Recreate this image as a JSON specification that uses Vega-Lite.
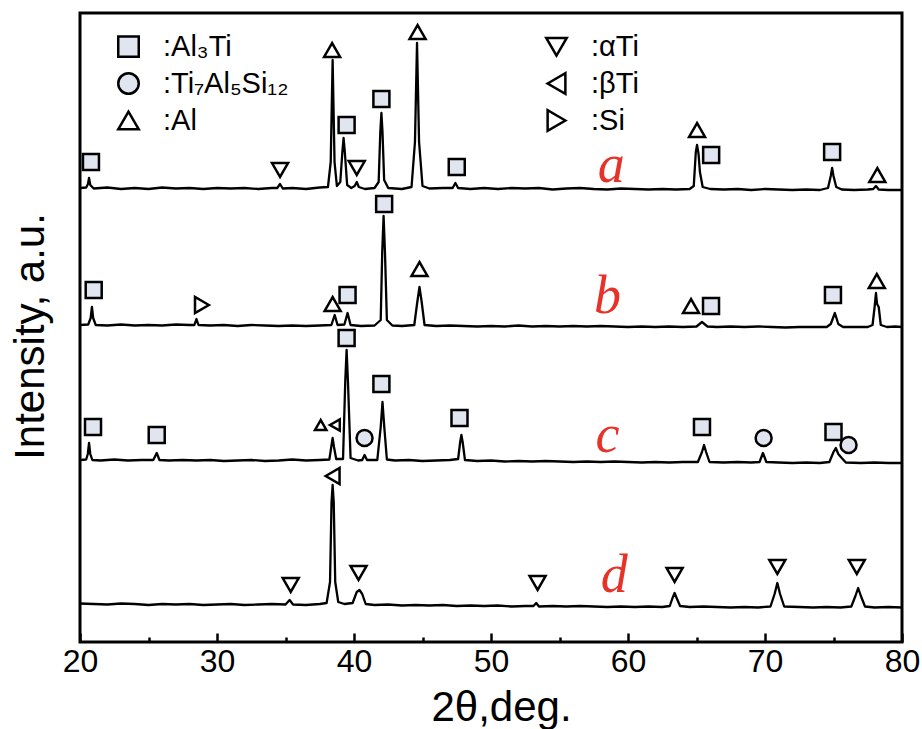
{
  "$schema": "https://vega.github.io/schema/vega-lite/v6.json",
  "width": 822,
  "height": 629,
  "autosize": {"type": "none"},
  "padding": {"left": 80, "top": 13, "right": 20, "bottom": 87},
  "background": "white",
  "config": {
    "view": {"stroke": "black", "strokeWidth": 3},
    "font": "Liberation Sans"
  },
  "datasets": {
    "curves": [
      {"s":"a","x":20.0,"y":454},{"s":"a","x":20.45,"y":454.5},{"s":"a","x":20.58,"y":458},{"s":"a","x":20.66,"y":464},{"s":"a","x":20.75,"y":457},{"s":"a","x":21.0,"y":453.5},{"s":"a","x":22,"y":454.5},{"s":"a","x":23,"y":453},{"s":"a","x":24,"y":454},{"s":"a","x":25,"y":453},{"s":"a","x":26,"y":454.5},{"s":"a","x":27,"y":453.5},{"s":"a","x":28,"y":454},{"s":"a","x":29,"y":453},{"s":"a","x":30,"y":454},{"s":"a","x":31,"y":453.5},{"s":"a","x":32,"y":454},{"s":"a","x":33,"y":453},{"s":"a","x":34,"y":454},{"s":"a","x":34.4,"y":454},{"s":"a","x":34.6,"y":458},{"s":"a","x":34.8,"y":453.5},{"s":"a","x":35.5,"y":454},{"s":"a","x":36.5,"y":453},{"s":"a","x":37.5,"y":454.5},{"s":"a","x":38.1,"y":455},{"s":"a","x":38.3,"y":480},{"s":"a","x":38.44,"y":582},{"s":"a","x":38.58,"y":480},{"s":"a","x":38.75,"y":456},{"s":"a","x":39.0,"y":460},{"s":"a","x":39.15,"y":490},{"s":"a","x":39.24,"y":504},{"s":"a","x":39.33,"y":490},{"s":"a","x":39.5,"y":457},{"s":"a","x":39.8,"y":454},{"s":"a","x":40.05,"y":456},{"s":"a","x":40.2,"y":460},{"s":"a","x":40.35,"y":455},{"s":"a","x":40.8,"y":453},{"s":"a","x":41.5,"y":454},{"s":"a","x":41.8,"y":460},{"s":"a","x":41.92,"y":510},{"s":"a","x":42.0,"y":529},{"s":"a","x":42.08,"y":510},{"s":"a","x":42.2,"y":462},{"s":"a","x":42.5,"y":454},{"s":"a","x":43.5,"y":453},{"s":"a","x":44.2,"y":455},{"s":"a","x":44.45,"y":500},{"s":"a","x":44.6,"y":599},{"s":"a","x":44.75,"y":500},{"s":"a","x":45.0,"y":456},{"s":"a","x":45.5,"y":453.5},{"s":"a","x":46.5,"y":454},{"s":"a","x":47.2,"y":454},{"s":"a","x":47.4,"y":459},{"s":"a","x":47.6,"y":454},{"s":"a","x":48.5,"y":453},{"s":"a","x":49.5,"y":454},{"s":"a","x":50.5,"y":453},{"s":"a","x":51.5,"y":454},{"s":"a","x":52.5,"y":453.5},{"s":"a","x":53.5,"y":454},{"s":"a","x":54.5,"y":452.5},{"s":"a","x":55.5,"y":453.5},{"s":"a","x":56.5,"y":454},{"s":"a","x":57.5,"y":453},{"s":"a","x":58.5,"y":452.5},{"s":"a","x":59.5,"y":453.5},{"s":"a","x":60.5,"y":453},{"s":"a","x":61.5,"y":452.5},{"s":"a","x":62.5,"y":453},{"s":"a","x":63.5,"y":452.5},{"s":"a","x":64.5,"y":453},{"s":"a","x":64.8,"y":456},{"s":"a","x":64.95,"y":490},{"s":"a","x":65.04,"y":497},{"s":"a","x":65.15,"y":488},{"s":"a","x":65.25,"y":470},{"s":"a","x":65.45,"y":455},{"s":"a","x":66,"y":453},{"s":"a","x":67,"y":452.5},{"s":"a","x":68,"y":453},{"s":"a","x":69,"y":452},{"s":"a","x":70,"y":453},{"s":"a","x":71,"y":452.5},{"s":"a","x":72,"y":452},{"s":"a","x":73,"y":452.5},{"s":"a","x":74,"y":452},{"s":"a","x":74.6,"y":454},{"s":"a","x":74.8,"y":466},{"s":"a","x":74.9,"y":474},{"s":"a","x":75.0,"y":466},{"s":"a","x":75.2,"y":455},{"s":"a","x":75.6,"y":452.5},{"s":"a","x":76.5,"y":452},{"s":"a","x":77.5,"y":452.5},{"s":"a","x":77.9,"y":453},{"s":"a","x":78.1,"y":456},{"s":"a","x":78.3,"y":452.5},{"s":"a","x":79,"y":452},{"s":"a","x":80,"y":452},

      {"s":"b","x":20.0,"y":317},{"s":"b","x":20.6,"y":317.5},{"s":"b","x":20.78,"y":324},{"s":"b","x":20.87,"y":335},{"s":"b","x":20.96,"y":324},{"s":"b","x":21.15,"y":317},{"s":"b","x":22,"y":316.5},{"s":"b","x":23,"y":317.5},{"s":"b","x":24,"y":316.5},{"s":"b","x":25,"y":317},{"s":"b","x":26,"y":316.5},{"s":"b","x":27,"y":317.5},{"s":"b","x":28,"y":317},{"s":"b","x":28.35,"y":317},{"s":"b","x":28.5,"y":323},{"s":"b","x":28.65,"y":317},{"s":"b","x":29.5,"y":316.5},{"s":"b","x":30.5,"y":317},{"s":"b","x":31.5,"y":316},{"s":"b","x":32.5,"y":317},{"s":"b","x":33.5,"y":316.5},{"s":"b","x":34.5,"y":316},{"s":"b","x":35.5,"y":316.5},{"s":"b","x":36.5,"y":316},{"s":"b","x":37.5,"y":316.5},{"s":"b","x":38.35,"y":317},{"s":"b","x":38.59,"y":327},{"s":"b","x":38.8,"y":317},{"s":"b","x":39.3,"y":317.5},{"s":"b","x":39.53,"y":329},{"s":"b","x":39.75,"y":317},{"s":"b","x":40.5,"y":316},{"s":"b","x":41.5,"y":316.5},{"s":"b","x":41.95,"y":322},{"s":"b","x":42.06,"y":390},{"s":"b","x":42.16,"y":426},{"s":"b","x":42.26,"y":390},{"s":"b","x":42.4,"y":322},{"s":"b","x":42.8,"y":316.5},{"s":"b","x":43.5,"y":316},{"s":"b","x":44.4,"y":317},{"s":"b","x":44.62,"y":340},{"s":"b","x":44.78,"y":355},{"s":"b","x":44.94,"y":340},{"s":"b","x":45.15,"y":317},{"s":"b","x":46,"y":316},{"s":"b","x":47,"y":316.5},{"s":"b","x":48,"y":316},{"s":"b","x":49,"y":315.5},{"s":"b","x":50,"y":316},{"s":"b","x":51,"y":315.5},{"s":"b","x":52,"y":316.5},{"s":"b","x":53,"y":315.5},{"s":"b","x":54,"y":316},{"s":"b","x":55,"y":315.5},{"s":"b","x":56,"y":316},{"s":"b","x":57,"y":315.5},{"s":"b","x":58,"y":316},{"s":"b","x":59,"y":315.5},{"s":"b","x":60,"y":315},{"s":"b","x":61,"y":315.5},{"s":"b","x":62,"y":315},{"s":"b","x":63,"y":315.5},{"s":"b","x":64,"y":315},{"s":"b","x":65.0,"y":315.5},{"s":"b","x":65.4,"y":320},{"s":"b","x":65.8,"y":315.5},{"s":"b","x":66.5,"y":315},{"s":"b","x":67.5,"y":315.5},{"s":"b","x":68.5,"y":315},{"s":"b","x":69.5,"y":315.5},{"s":"b","x":70.5,"y":315},{"s":"b","x":71.5,"y":314.5},{"s":"b","x":72.5,"y":315},{"s":"b","x":73.5,"y":315},{"s":"b","x":74.5,"y":315},{"s":"b","x":74.8,"y":318},{"s":"b","x":75.1,"y":329},{"s":"b","x":75.35,"y":318},{"s":"b","x":75.7,"y":315},{"s":"b","x":76.5,"y":315},{"s":"b","x":77.5,"y":315},{"s":"b","x":77.85,"y":317},{"s":"b","x":78.0,"y":335},{"s":"b","x":78.1,"y":349},{"s":"b","x":78.18,"y":338},{"s":"b","x":78.3,"y":335},{"s":"b","x":78.45,"y":317},{"s":"b","x":78.9,"y":315},{"s":"b","x":79.5,"y":315.5},{"s":"b","x":80,"y":315},

      {"s":"c","x":20.0,"y":182},{"s":"c","x":20.45,"y":182.5},{"s":"c","x":20.57,"y":188},{"s":"c","x":20.66,"y":199},{"s":"c","x":20.75,"y":188},{"s":"c","x":20.9,"y":182},{"s":"c","x":21.5,"y":181.5},{"s":"c","x":22.5,"y":182.5},{"s":"c","x":23.5,"y":181.5},{"s":"c","x":24.5,"y":182},{"s":"c","x":25.35,"y":182},{"s":"c","x":25.6,"y":189},{"s":"c","x":25.8,"y":182},{"s":"c","x":26.5,"y":181.5},{"s":"c","x":27.5,"y":182},{"s":"c","x":28.5,"y":181.5},{"s":"c","x":29.5,"y":182},{"s":"c","x":30.5,"y":181},{"s":"c","x":31.5,"y":181.5},{"s":"c","x":32.5,"y":182},{"s":"c","x":33.5,"y":181},{"s":"c","x":34.5,"y":181.5},{"s":"c","x":35.5,"y":182.5},{"s":"c","x":36.5,"y":181.5},{"s":"c","x":37.5,"y":182},{"s":"c","x":38.2,"y":182.5},{"s":"c","x":38.34,"y":195},{"s":"c","x":38.44,"y":204},{"s":"c","x":38.54,"y":195},{"s":"c","x":38.7,"y":183},{"s":"c","x":39.2,"y":183},{"s":"c","x":39.36,"y":260},{"s":"c","x":39.46,"y":292},{"s":"c","x":39.56,"y":260},{"s":"c","x":39.75,"y":184},{"s":"c","x":40.3,"y":181.5},{"s":"c","x":40.6,"y":182},{"s":"c","x":40.77,"y":187},{"s":"c","x":40.95,"y":182},{"s":"c","x":41.7,"y":182},{"s":"c","x":41.95,"y":215},{"s":"c","x":42.08,"y":240},{"s":"c","x":42.21,"y":215},{"s":"c","x":42.4,"y":182.5},{"s":"c","x":43,"y":181.5},{"s":"c","x":44,"y":182},{"s":"c","x":45,"y":181},{"s":"c","x":46,"y":181.5},{"s":"c","x":47,"y":182},{"s":"c","x":47.6,"y":183},{"s":"c","x":47.75,"y":200},{"s":"c","x":47.84,"y":207},{"s":"c","x":47.93,"y":200},{"s":"c","x":48.1,"y":182},{"s":"c","x":49,"y":181},{"s":"c","x":50,"y":181.5},{"s":"c","x":51,"y":180.5},{"s":"c","x":52,"y":181},{"s":"c","x":53,"y":180.5},{"s":"c","x":54,"y":181},{"s":"c","x":55,"y":180.5},{"s":"c","x":56,"y":180},{"s":"c","x":57,"y":180.5},{"s":"c","x":58,"y":180},{"s":"c","x":59,"y":180.5},{"s":"c","x":60,"y":180},{"s":"c","x":61,"y":179.5},{"s":"c","x":62,"y":180},{"s":"c","x":63,"y":179.5},{"s":"c","x":64,"y":180},{"s":"c","x":65.1,"y":180},{"s":"c","x":65.4,"y":190},{"s":"c","x":65.55,"y":197},{"s":"c","x":65.7,"y":190},{"s":"c","x":65.95,"y":180},{"s":"c","x":67,"y":179.5},{"s":"c","x":68,"y":180},{"s":"c","x":69,"y":179.5},{"s":"c","x":69.6,"y":180},{"s":"c","x":69.85,"y":189},{"s":"c","x":70.1,"y":180},{"s":"c","x":71,"y":179.5},{"s":"c","x":72,"y":179},{"s":"c","x":73,"y":179.5},{"s":"c","x":74,"y":179},{"s":"c","x":74.7,"y":180},{"s":"c","x":75.0,"y":190},{"s":"c","x":75.17,"y":194},{"s":"c","x":75.35,"y":188},{"s":"c","x":75.6,"y":184},{"s":"c","x":75.9,"y":179.5},{"s":"c","x":77,"y":179},{"s":"c","x":78,"y":179.5},{"s":"c","x":79,"y":179},{"s":"c","x":80,"y":179},

      {"s":"d","x":20.0,"y":38.5},{"s":"d","x":21,"y":38},{"s":"d","x":22,"y":37.5},{"s":"d","x":23,"y":38.5},{"s":"d","x":24,"y":38},{"s":"d","x":25,"y":37},{"s":"d","x":26,"y":38},{"s":"d","x":27,"y":37.5},{"s":"d","x":28,"y":38},{"s":"d","x":29,"y":37},{"s":"d","x":30,"y":37.5},{"s":"d","x":31,"y":38},{"s":"d","x":32,"y":37},{"s":"d","x":33,"y":37.5},{"s":"d","x":34,"y":38},{"s":"d","x":35.0,"y":37.5},{"s":"d","x":35.3,"y":42},{"s":"d","x":35.55,"y":37.5},{"s":"d","x":36.5,"y":37},{"s":"d","x":37.5,"y":38},{"s":"d","x":38.0,"y":39},{"s":"d","x":38.25,"y":60},{"s":"d","x":38.36,"y":140},{"s":"d","x":38.44,"y":157},{"s":"d","x":38.52,"y":140},{"s":"d","x":38.63,"y":60},{"s":"d","x":38.85,"y":40},{"s":"d","x":39.3,"y":38},{"s":"d","x":39.9,"y":39},{"s":"d","x":40.2,"y":50},{"s":"d","x":40.4,"y":52},{"s":"d","x":40.6,"y":48},{"s":"d","x":40.85,"y":38},{"s":"d","x":41.5,"y":37},{"s":"d","x":42.5,"y":37.5},{"s":"d","x":43.5,"y":36.5},{"s":"d","x":44.5,"y":37},{"s":"d","x":45.5,"y":36.5},{"s":"d","x":46.5,"y":37},{"s":"d","x":47.5,"y":36},{"s":"d","x":48.5,"y":36.5},{"s":"d","x":49.5,"y":36},{"s":"d","x":50.5,"y":36.5},{"s":"d","x":51.5,"y":35.5},{"s":"d","x":52.5,"y":36},{"s":"d","x":53.1,"y":36},{"s":"d","x":53.3,"y":39},{"s":"d","x":53.5,"y":35.5},{"s":"d","x":54.5,"y":36},{"s":"d","x":55.5,"y":35.5},{"s":"d","x":56.5,"y":36},{"s":"d","x":57.5,"y":35.5},{"s":"d","x":58.5,"y":35},{"s":"d","x":59.5,"y":35.5},{"s":"d","x":60.5,"y":35},{"s":"d","x":61.5,"y":35.5},{"s":"d","x":62.5,"y":35},{"s":"d","x":63.05,"y":36},{"s":"d","x":63.25,"y":44},{"s":"d","x":63.4,"y":49},{"s":"d","x":63.55,"y":44},{"s":"d","x":63.8,"y":36},{"s":"d","x":64.5,"y":35},{"s":"d","x":65.5,"y":35.5},{"s":"d","x":66.5,"y":35},{"s":"d","x":67.5,"y":34.5},{"s":"d","x":68.5,"y":35},{"s":"d","x":69.5,"y":34.5},{"s":"d","x":70.4,"y":35.5},{"s":"d","x":70.7,"y":48},{"s":"d","x":70.9,"y":59},{"s":"d","x":71.1,"y":48},{"s":"d","x":71.4,"y":35.5},{"s":"d","x":72.5,"y":35},{"s":"d","x":73.5,"y":34.5},{"s":"d","x":74.5,"y":35},{"s":"d","x":75.5,"y":34.5},{"s":"d","x":76.3,"y":35.5},{"s":"d","x":76.6,"y":46},{"s":"d","x":76.8,"y":54},{"s":"d","x":77.0,"y":46},{"s":"d","x":77.3,"y":35.5},{"s":"d","x":78,"y":34.5},{"s":"d","x":79,"y":35},{"s":"d","x":80,"y":34.5}
    ],
    "markers": [
      {"p":"Al₃Ti","x":20.8,"y":480,"k":"main"},{"p":"αTi","x":34.6,"y":472,"k":"main"},{"p":"Al","x":38.4,"y":592,"k":"main"},{"p":"Al₃Ti","x":39.46,"y":517,"k":"main"},{"p":"αTi","x":40.2,"y":474,"k":"main"},{"p":"Al₃Ti","x":42.0,"y":543,"k":"main"},{"p":"Al","x":44.64,"y":610,"k":"main"},{"p":"Al₃Ti","x":47.5,"y":475,"k":"main"},{"p":"Al","x":65.04,"y":512,"k":"main"},{"p":"Al₃Ti","x":66.07,"y":487,"k":"main"},{"p":"Al₃Ti","x":74.9,"y":490,"k":"main"},{"p":"Al","x":78.2,"y":467,"k":"main"},
      {"p":"Al₃Ti","x":21.0,"y":352,"k":"main"},{"p":"Si","x":28.9,"y":337,"k":"main"},{"p":"Al","x":38.44,"y":338,"k":"main"},{"p":"Al₃Ti","x":39.53,"y":347,"k":"main"},{"p":"Al₃Ti","x":42.2,"y":438,"k":"main"},{"p":"Al","x":44.78,"y":373,"k":"main"},{"p":"Al","x":64.6,"y":336,"k":"main"},{"p":"Al₃Ti","x":66.06,"y":336,"k":"main"},{"p":"Al₃Ti","x":74.96,"y":347,"k":"main"},{"p":"Al","x":78.16,"y":361,"k":"main"},
      {"p":"Al₃Ti","x":20.95,"y":215,"k":"main"},{"p":"Al₃Ti","x":25.6,"y":207,"k":"main"},{"p":"Al","x":37.57,"y":217,"k":"minor"},{"p":"βTi","x":38.6,"y":217,"k":"minor"},{"p":"Al₃Ti","x":39.46,"y":304,"k":"main"},{"p":"Ti₇Al₅Si₁₂","x":40.77,"y":204,"k":"main"},{"p":"Al₃Ti","x":42.0,"y":258,"k":"main"},{"p":"Al₃Ti","x":47.7,"y":224,"k":"main"},{"p":"Al₃Ti","x":65.4,"y":215,"k":"main"},{"p":"Ti₇Al₅Si₁₂","x":69.9,"y":204,"k":"main"},{"p":"Al₃Ti","x":75.0,"y":210,"k":"main"},{"p":"Ti₇Al₅Si₁₂","x":76.1,"y":197,"k":"main"},
      {"p":"αTi","x":35.38,"y":57,"k":"main"},{"p":"βTi","x":38.44,"y":166,"k":"main"},{"p":"αTi","x":40.33,"y":69,"k":"main"},{"p":"αTi","x":53.4,"y":59,"k":"main"},{"p":"αTi","x":63.4,"y":67,"k":"main"},{"p":"αTi","x":70.9,"y":75,"k":"main"},{"p":"αTi","x":76.7,"y":75,"k":"main"}
    ],
    "labels": [
      {"lab":"a","x":58.77,"y":460},{"lab":"b","x":58.5,"y":329},{"lab":"c","x":58.5,"y":190},{"lab":"d","x":59.0,"y":50}
    ]
  },
  "layer": [
    {
      "data": {"name": "curves"},
      "mark": {"type": "line", "color": "black", "strokeWidth": 2.3, "strokeJoin": "round"},
      "encoding": {
        "x": {"field": "x", "type": "quantitative",
          "scale": {"domain": [20, 80], "nice": false, "zero": false},
          "axis": {
            "values": [20,25,30,35,40,45,50,55,60,65,70,75,80],
            "labelExpr": "datum.value % 10 === 0 ? datum.label : ''",
            "tickSize": {"condition": {"test": "datum.value % 10 === 0", "value": -9}, "value": -5},
            "tickWidth": 2.5, "tickColor": "black",
            "domain": false, "grid": false,
            "labelFontSize": 32, "labelColor": "black", "labelFont": "Liberation Sans",
            "labelFlush": false, "labelPadding": 13,
            "title": "2θ,deg.", "titleFontSize": 42, "titleFontWeight": "normal", "titleColor": "black",
            "titleFont": "Liberation Sans", "titleBaseline": "alphabetic", "titleX": 421, "titleY": 78
          }
        },
        "y": {"field": "y", "type": "quantitative",
          "scale": {"domain": [0, 629], "nice": false, "zero": false},
          "axis": {
            "ticks": false, "labels": false, "domain": false, "grid": false,
            "title": "Intensity, a.u.", "titleFontSize": 42, "titleFontWeight": "normal", "titleColor": "black",
            "titleFont": "Liberation Sans", "titleBaseline": "alphabetic", "titleAngle": -90,
            "titleX": -37, "titleY": 323, "titleAlign": "center"
          }
        },
        "detail": {"field": "s"}
      }
    },
    {
      "data": {"name": "markers"},
      "mark": {"type": "point", "filled": true, "stroke": "black", "strokeWidth": 2.5, "opacity": 1},
      "encoding": {
        "x": {"field": "x", "type": "quantitative"},
        "y": {"field": "y", "type": "quantitative"},
        "shape": {"field": "p", "type": "nominal",
          "scale": {"domain": ["Al₃Ti","Ti₇Al₅Si₁₂","Al","αTi","βTi","Si"],
                    "range": ["square","circle","triangle-up","triangle-down","triangle-left","triangle-right"]},
          "legend": {
            "orient": "none", "legendX": 34, "legendY": 19, "columns": 2, "columnPadding": 252,
            "rowPadding": 6, "symbolSize": 420, "symbolStrokeWidth": 2.5, "symbolStrokeColor": "black",
            "labelFontSize": 29, "labelFont": "Liberation Sans", "labelColor": "black", "labelOffset": 20,
            "labelLimit": 400, "title": null, "padding": 0, "symbolOpacity": 1,
            "labelExpr": "':' + datum.label",
            "encode": {"symbols": {"update": {"stroke": {"value": "black"}, "strokeWidth": {"value": 2.5}, "opacity": {"value": 1}}}}
          }
        },
        "fill": {"field": "p", "type": "nominal",
          "scale": {"domain": ["Al₃Ti","Ti₇Al₅Si₁₂","Al","αTi","βTi","Si"],
                    "range": ["#e1e5ef","#e1e5ef","white","white","white","white"]},
          "legend": {
            "orient": "none", "legendX": 34, "legendY": 19, "columns": 2, "columnPadding": 252,
            "rowPadding": 6, "symbolSize": 420, "symbolStrokeWidth": 2.5, "symbolStrokeColor": "black",
            "labelFontSize": 29, "labelFont": "Liberation Sans", "labelColor": "black", "labelOffset": 20,
            "labelLimit": 400, "title": null, "padding": 0, "symbolOpacity": 1,
            "labelExpr": "':' + datum.label",
            "encode": {"symbols": {"update": {"stroke": {"value": "black"}, "strokeWidth": {"value": 2.5}, "opacity": {"value": 1}}}}
          }
        },
        "size": {"field": "k", "type": "nominal",
          "scale": {"domain": ["main","minor"], "range": [256, 130]}, "legend": null}
      }
    },
    {
      "data": {"name": "labels"},
      "mark": {"type": "text", "font": "Liberation Serif", "fontStyle": "italic", "fontSize": 54,
               "color": "#e63228", "align": "center", "baseline": "alphabetic"},
      "encoding": {
        "x": {"field": "x", "type": "quantitative"},
        "y": {"field": "y", "type": "quantitative"},
        "text": {"field": "lab"}
      }
    }
  ]
}
